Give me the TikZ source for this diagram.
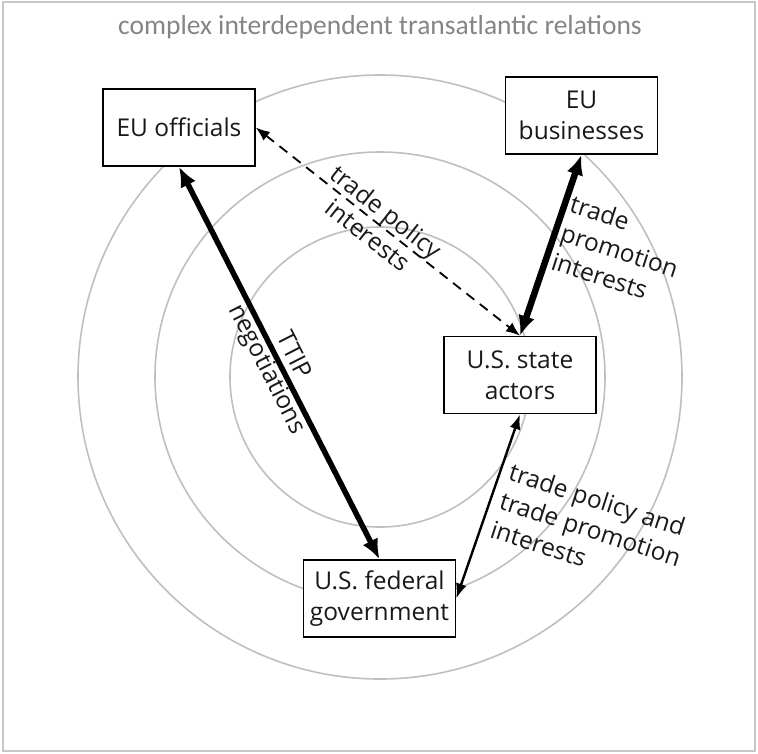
\documentclass[tikz,border=0pt]{standalone}
\usepackage{fontspec}
\setmainfont{Open Sans}
\newfontfamily\titlefont{Carlito}
\usetikzlibrary{arrows.meta}

\begin{document}
\begin{tikzpicture}
    [x=1pt, y=-1pt,
    ring/.style={draw=black!25, line width=1.6pt},
    actor/.style={draw, line width=1.6pt, fill=white, align=center, inner sep=0pt,
        minimum width=152pt, minimum height=77pt,
        font=\fontsize{24.5}{31}\selectfont, text=black!90},
    lbl/.style={align=left, inner sep=0pt, font=\fontsize{24.5}{30}\selectfont, text=black!90},
    heavy/.style={line width=5.5pt, {Latex[length=20pt,width=17pt]}-{Latex[length=20pt,width=17pt]}},
    light/.style={line width=2.4pt, {Latex[length=15pt,width=11pt]}-{Latex[length=15pt,width=11pt]}},
    dashlink/.style={line width=1.8pt, dash pattern=on 10pt off 7pt,
        {Latex[length=14pt,width=11pt]}-{Latex[length=14pt,width=11pt]}}]
        \useasboundingbox (0,0) rectangle (758,753);
        \draw[black!22, line width=1.5pt] (3,2) rectangle (755,751);

        %% Title
        \node[text=black!48, font=\titlefont\fontsize{27.5}{33}\selectfont] (title) at (380,27)
            {complex interdependent transatlantic relations};

        %% Rings
        \coordinate (O) at (380,377);
        \foreach \r in {150,225,302}
            \draw[ring] (O) circle [radius=\r pt];

        %% Actors
        \node[actor] (officials) at (179,127.5) {EU officials};
        \node[actor] (business) at (581.5,115.5) {EU\\businesses};
        \node[actor] (state) at (520,375) {U.S. state\\actors};
        \node[actor] (federal) at (379.5,598.5) {U.S. federal\\government};

        %% Relations
        \draw[dashlink] (officials.east) -- (state.north)
            node[lbl, align=center, pos=0.46, sloped] (policy) {trade policy\\interests};
        \draw[heavy] (officials.south) -- (federal.north)
            node[lbl, align=center, pos=0.5, sloped] (ttip) {TTIP\\negotiations};
        \draw[heavy, line width=6.5pt] (business.south) -- (state.north);
        \draw[light] (state.south) -- (federal.east);

        \node[lbl, rotate=-18, anchor=north west] (promotion) at (574,194)
            {trade\\promotion\\interests};
        \node[lbl, rotate=-18, anchor=north west] (both) at (513,462)
            {trade policy and\\trade promotion\\interests};
    \end{tikzpicture}
\end{document}
